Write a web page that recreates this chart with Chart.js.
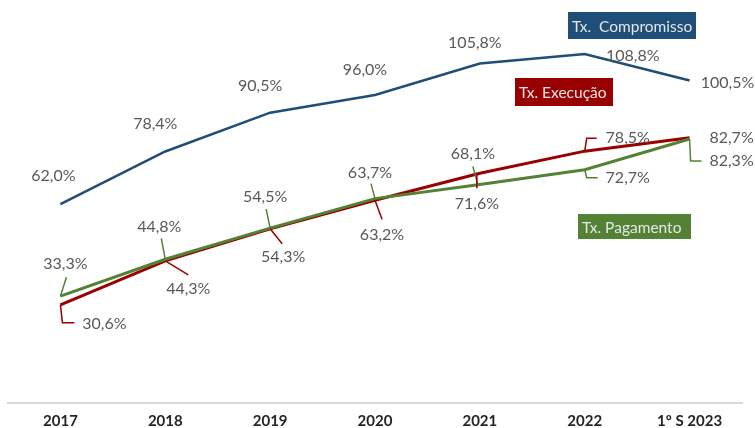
<!DOCTYPE html>
<html>
<head>
<meta charset="utf-8">
<script src="https://cdn.jsdelivr.net/npm/chart.js@4"></script>
<style>
  html, body { margin: 0; padding: 0; background: #fff; }
  #wrap { width: 755px; height: 428px; position: relative; }
</style>
</head>
<body>
<div id="wrap"><canvas id="chart"></canvas></div>
<script>
const categories = ['2017', '2018', '2019', '2020', '2021', '2022', '1º S 2023'];
const compromisso = [62.0, 78.4, 90.5, 96.0, 105.8, 108.8, 100.5];
const execucao = [30.6, 44.3, 54.3, 63.2, 71.6, 78.5, 82.7];
const pagamento = [33.3, 44.8, 54.5, 63.7, 68.1, 72.7, 82.3];

const BLUE = '#1f4e79';
const RED = '#990000';
const GREEN = '#548235';

const fmt = v => v.toFixed(1).replace('.', ',') + '%';

// label placement relative to each point: [dx, dy, leader polyline]
const labelLayout = {
    compromisso: [
        [-7, -28], [-10, -28], [-10, -27], [-10, -25], [-5, -21], [48, 2], [38, 2]
    ],
    execucao: [
        [44, 19, [[0, 0], [2, 18], [14, 18]]],
        [23, 28, [[0, 0], [23, 14]]],
        [13, 28, [[0, 0], [12, 15]]],
        [7, 35, [[0, 0], [7, 19]]],
        [-3, 31, [[-3, 0], [-3, 15]]],
        [43, -13, [[0, 0], [2, -13], [12, -13]]],
        [42, 0]
    ],
    pagamento: [
        [5, -32, [[0, 0], [6, -19]]],
        [-6, -32, [[0, 0], [-4, -21]]],
        [-5, -31, [[0, 0], [-4, -19]]],
        [-5, -26, [[0, 0], [-4, -15]]],
        [-7, -31, [[-2, 0], [-7, -18]]],
        [43, 8, [[0, 0], [2, 8], [13, 8]]],
        [42, 22, [[0, 0], [1, 22], [12, 22]]]
    ]
};

const tags = [
    { text: 'Tx.  Compromisso', color: BLUE, x: 568, y: 12, w: 128, h: 27 },
    { text: 'Tx. Execução', color: RED, x: 515, y: 78, w: 98, h: 28 },
    { text: 'Tx. Pagamento', color: GREEN, x: 578, y: 214, w: 113, h: 25 }
];

const labelsPlugin = {
    id: 'pointLabels',
    afterDatasetsDraw(chart) {
        const ctx = chart.ctx;
        ctx.save();
        ctx.font = '16px Lato';
        ctx.textAlign = 'center';
        ctx.textBaseline = 'middle';
        chart.data.datasets.forEach((ds, i) => {
            const meta = chart.getDatasetMeta(i);
            const layout = labelLayout[ds.key];
            meta.data.forEach((pt, j) => {
                const [dx, dy, leader] = layout[j];
                if (leader) {
                    ctx.strokeStyle = ds.borderColor;
                    ctx.lineWidth = 1.5;
                    ctx.beginPath();
                    leader.forEach(([lx, ly], k) => {
                        if (k === 0) ctx.moveTo(pt.x + lx, pt.y + ly);
                        else ctx.lineTo(pt.x + lx, pt.y + ly);
                    });
                    ctx.stroke();
                }
                ctx.fillStyle = '#595959';
                ctx.fillText(fmt(ds.data[j]), pt.x + dx, pt.y + dy);
            });
        });
        // series name tags
        ctx.textAlign = 'left';
        ctx.font = '15.5px Lato';
        tags.forEach(t => {
            ctx.fillStyle = t.color;
            ctx.fillRect(t.x, t.y, t.w, t.h);
            ctx.fillStyle = '#e6e6e6';
            ctx.fillText(t.text, t.x + 4, t.y + t.h / 2 + 1);
        });
        ctx.restore();
    }
};

new Chart(document.getElementById('chart'), {
    type: 'line',
    data: {
        labels: categories,
        datasets: [
            { key: 'pagamento', label: 'Tx. Pagamento', data: pagamento, borderColor: GREEN, borderWidth: 3 },
            { key: 'execucao', label: 'Tx. Execução', data: execucao, borderColor: RED, borderWidth: 3 },
            { key: 'compromisso', label: 'Tx. Compromisso', data: compromisso, borderColor: BLUE, borderWidth: 2.5 }
        ]
    },
    options: {
        responsive: true,
        maintainAspectRatio: false,
        animation: false,
        elements: { point: { radius: 0 }, line: { tension: 0, borderCapStyle: 'butt' } },
        layout: { padding: { left: 8, right: 13, top: 18, bottom: -11 } },
        plugins: { legend: { display: false }, tooltip: { enabled: false } },
        scales: {
            x: {
                offset: true,
                grid: { display: false, drawTicks: false },
                border: { display: true, color: '#d9d9d9', width: 2 },
                ticks: { color: '#262626', padding: 9, font: { family: 'Lato', size: 15, weight: 'bold' } }
            },
            y: { display: false, min: 0, max: 120 }
        }
    },
    plugins: [labelsPlugin]
});
</script>
</body>
</html>
